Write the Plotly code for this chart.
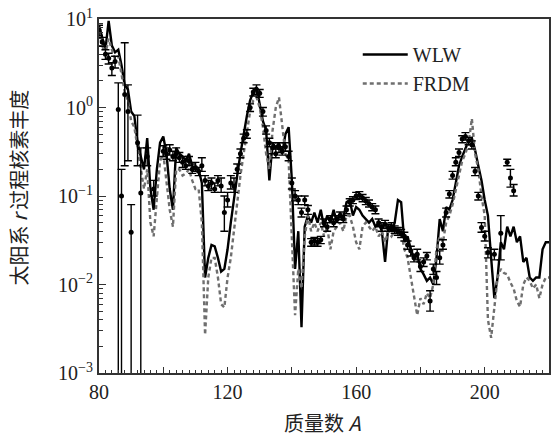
import plotly.graph_objects as go

# ---- model curves (mass number A, abundance) ----
A_model = list(range(80, 221))

wlw = [8.5, 6, 4.5, 9.5, 5, 4.2, 4.5, 3, 1.8, 1.6,
       0.9, 0.8, 0.4, 0.28, 0.2, 0.45, 0.12, 0.07, 0.2, 0.4,
       0.47, 0.3, 0.12, 0.07, 0.35, 0.3, 0.28, 0.25, 0.3, 0.22,
       0.2, 0.2, 0.14, 0.012, 0.02, 0.028, 0.027, 0.02, 0.014, 0.015,
       0.025, 0.05, 0.1, 0.17, 0.3, 0.5, 0.8, 1.2, 1.5, 1.7,
       1.1, 0.7, 0.55, 0.15, 0.4, 0.35, 0.4, 0.3, 0.5, 0.6,
       0.15, 0.015, 0.04, 0.0033, 0.045, 0.06, 0.05, 0.065, 0.05, 0.07,
       0.045, 0.06, 0.05, 0.07, 0.05, 0.065, 0.055, 0.085, 0.09, 0.06,
       0.075, 0.07, 0.06, 0.055, 0.05, 0.055, 0.045, 0.05, 0.04, 0.018,
       0.045, 0.04, 0.05, 0.09, 0.085, 0.03, 0.035, 0.025, 0.02, 0.022,
       0.015, 0.013, 0.011, 0.012, 0.01, 0.02, 0.055, 0.04, 0.075, 0.07,
       0.09, 0.14, 0.22, 0.28, 0.35, 0.42, 0.45, 0.33, 0.22, 0.15,
       0.09, 0.06, 0.02, 0.007, 0.012, 0.03, 0.025, 0.045, 0.035, 0.045,
       0.03, 0.035, 0.018, 0.02, 0.012, 0.011, 0.012, 0.012, 0.025, 0.03,
       0.03]

frdm = [7, 5, 4, 6, 4.5, 3.5, 3.8, 2.5, 1.5, 1.2,
        0.7, 0.6, 0.35, 0.22, 0.12, 0.2, 0.05, 0.035, 0.1, 0.25,
        0.3, 0.15, 0.07, 0.045, 0.2, 0.2, 0.17, 0.18, 0.2, 0.15,
        0.12, 0.12, 0.05, 0.0027, 0.012, 0.02, 0.02, 0.012, 0.006, 0.0055,
        0.012, 0.02, 0.04, 0.09, 0.17, 0.3, 0.55, 0.9, 1.2, 1.3,
        1.0, 0.6, 0.3, 0.2, 0.55, 1.0, 1.3, 0.6, 0.3, 0.25,
        0.04, 0.0045, 0.015, 0.009, 0.035, 0.06, 0.04, 0.05, 0.04, 0.05,
        0.035, 0.045, 0.025, 0.04, 0.045, 0.05, 0.04, 0.06, 0.06, 0.045,
        0.03, 0.025, 0.045, 0.05, 0.045, 0.04, 0.045, 0.035, 0.04, 0.03,
        0.04, 0.035, 0.04, 0.045, 0.04, 0.025, 0.02, 0.012, 0.008, 0.0045,
        0.007, 0.006, 0.008, 0.007, 0.01, 0.025, 0.035, 0.03, 0.05, 0.06,
        0.08, 0.12, 0.18, 0.25, 0.3, 0.4, 0.75, 0.3, 0.2, 0.1,
        0.06, 0.004, 0.0025, 0.006, 0.012, 0.015, 0.0135, 0.013, 0.0105, 0.009,
        0.0065, 0.0056, 0.01, 0.012, 0.011, 0.009, 0.01, 0.007, 0.01, 0.012,
        0.012]

# ---- solar r-process abundances with error bars ----
solar_A = [80, 81, 82, 83, 84, 85, 86, 87, 88, 89, 90, 92, 93, 95, 97,
           100, 101, 102, 103, 104, 105, 106, 107, 108, 109, 110, 111, 112,
           113, 114, 115, 116, 117, 118, 119, 120, 121, 122, 123, 124, 125,
           126, 127, 128, 129, 130, 131, 132, 133, 134, 135, 136, 137, 138,
           139, 140, 141, 142, 143, 144, 145, 146, 147, 148, 149, 150, 151,
           152, 153, 154, 155, 156, 157, 158, 159, 160, 161, 162, 163, 164,
           165, 166, 167, 168, 169, 170, 171, 172, 173, 174, 175, 176, 177,
           178, 179, 180, 181, 182, 183, 184, 185, 186, 187, 188, 189, 190,
           191, 192, 193, 194, 195, 196, 197, 198, 199, 200, 201, 203, 205,
           207, 208, 209]
solar_val = [7.5, 5.5, 4.0, 3.6, 2.8, 3.3, 0.95, 0.1, 1.4, 0.9, 0.039, 0.4, 0.108, 0.28, 0.12,
             0.32, 0.3, 0.33, 0.28, 0.3, 0.27, 0.24, 0.22, 0.25, 0.2, 0.21, 0.19, 0.22,
             0.15, 0.13, 0.14, 0.12, 0.15, 0.13, 0.065, 0.09, 0.14, 0.13, 0.2, 0.3, 0.45,
             0.5, 1.0, 1.5, 1.6, 1.45, 0.9, 0.55, 0.4, 0.35, 0.3, 0.35, 0.32, 0.36,
             0.28, 0.14, 0.1, 0.09, 0.065, 0.09, 0.07, 0.03, 0.031, 0.03, 0.032, 0.05, 0.045,
             0.055, 0.05, 0.055, 0.06, 0.055, 0.07, 0.085, 0.09, 0.1, 0.102, 0.095, 0.088, 0.082,
             0.075, 0.07, 0.05, 0.045, 0.048, 0.044, 0.045, 0.042, 0.04, 0.038, 0.035, 0.028, 0.024,
             0.02, 0.022, 0.016, 0.018, 0.021, 0.0065, 0.015, 0.012, 0.02, 0.028, 0.065, 0.105, 0.17,
             0.24, 0.31, 0.44, 0.47, 0.42, 0.38, 0.19, 0.1, 0.044, 0.035, 0.023, 0.022, 0.038,
             0.24, 0.16, 0.115]
solar_lo = [6.5, 4.9, 3.5, 3.1, 2.3, 2.8, 1e-4, 1e-4, 0.22, 0.25, 1e-4, 0.22, 1e-4, 0.22, 0.1,
            0.28, 0.26, 0.29, 0.25, 0.27, 0.24, 0.21, 0.2, 0.22, 0.18, 0.19, 0.17, 0.19,
            0.13, 0.115, 0.12, 0.11, 0.13, 0.11, 0.04, 0.075, 0.12, 0.11, 0.18, 0.27, 0.4,
            0.45, 0.9, 1.35, 1.4, 1.3, 0.8, 0.5, 0.36, 0.3, 0.27, 0.31, 0.29, 0.32,
            0.25, 0.12, 0.088, 0.08, 0.058, 0.08, 0.062, 0.027, 0.028, 0.027, 0.029, 0.045, 0.04,
            0.05, 0.045, 0.05, 0.054, 0.05, 0.063, 0.077, 0.082, 0.091, 0.093, 0.086, 0.08, 0.075,
            0.068, 0.063, 0.045, 0.04, 0.043, 0.04, 0.04, 0.038, 0.036, 0.034, 0.031, 0.025, 0.021,
            0.018, 0.019, 0.014, 0.016, 0.019, 0.005, 0.013, 0.01, 0.017, 0.025, 0.058, 0.095, 0.155,
            0.22, 0.28, 0.4, 0.43, 0.38, 0.34, 0.17, 0.09, 0.039, 0.031, 0.02, 0.019, 0.019,
            0.22, 0.126, 0.1]
solar_hi = [8.5, 6.2, 4.5, 4.1, 3.2, 3.8, 1.9, 0.2, 5.4, 1.8, 0.08, 0.82, 0.35, 0.35, 0.15,
            0.37, 0.35, 0.38, 0.32, 0.35, 0.31, 0.28, 0.25, 0.28, 0.23, 0.24, 0.21, 0.27,
            0.17, 0.15, 0.16, 0.14, 0.17, 0.16, 0.1, 0.11, 0.17, 0.16, 0.23, 0.34, 0.5,
            0.56, 1.1, 1.65, 1.8, 1.6, 1.0, 0.62, 0.45, 0.4, 0.34, 0.4, 0.36, 0.4,
            0.32, 0.16, 0.115, 0.1, 0.073, 0.1, 0.078, 0.033, 0.034, 0.033, 0.035, 0.055, 0.05,
            0.06, 0.055, 0.06, 0.066, 0.06, 0.077, 0.093, 0.098, 0.11, 0.112, 0.104, 0.096, 0.09,
            0.082, 0.077, 0.055, 0.05, 0.053, 0.048, 0.05, 0.046, 0.044, 0.042, 0.039, 0.031, 0.027,
            0.022, 0.025, 0.018, 0.02, 0.023, 0.0085, 0.017, 0.014, 0.024, 0.032, 0.073, 0.115, 0.19,
            0.27, 0.34, 0.48, 0.52, 0.46, 0.42, 0.21, 0.11, 0.05, 0.04, 0.026, 0.025, 0.06,
            0.26, 0.2, 0.135]

err_plus = [h - v for h, v in zip(solar_hi, solar_val)]
err_minus = [v - l for v, l in zip(solar_val, solar_lo)]

x_ticks = [80, 100, 120, 140, 160, 180, 200, 220]
x_ticktext = ["80", "", "120", "", "160", "", "200", ""]
y_ticks = [1e-3, 1e-2, 1e-1, 1, 10]
y_ticktext = ["10<sup>−3</sup>", "10<sup>−2</sup>", "10<sup>−1</sup>", "10<sup>0</sup>", "10<sup>1</sup>"]

serif = "Liberation Serif, DejaVu Serif, serif"
cjk = "Noto Sans CJK SC, Noto Sans, sans-serif"
axis_col = "#333333"

fig = go.Figure()
fig.add_trace(go.Scatter(x=A_model, y=wlw, mode="lines", name="WLW",
                         line=dict(color="black", width=2.4)))
fig.add_trace(go.Scatter(x=A_model, y=frdm, mode="lines", name="FRDM",
                         line=dict(color="#6f6f6f", width=2.4, dash="4px,3px")))
fig.add_trace(go.Scatter(x=solar_A, y=solar_val, mode="markers", showlegend=False,
                         marker=dict(color="black", size=5),
                         error_y=dict(type="data", symmetric=False, array=err_plus,
                                      arrayminus=err_minus, color="black",
                                      thickness=1.4, width=4)))

fig.update_layout(
    width=552, height=439,
    margin=dict(l=99, r=1, t=19, b=66),
    paper_bgcolor="white", plot_bgcolor="white",
    showlegend=True,
    legend=dict(x=0.575, y=0.955, xanchor="left", yanchor="top",
                bgcolor="rgba(0,0,0,0)", font=dict(family=serif, size=20, color="#222"),
                itemwidth=45, tracegroupgap=0),
    xaxis=dict(range=[80, 220], tickvals=x_ticks, ticktext=x_ticktext,
               ticks="inside", ticklen=6, tickwidth=1.2, tickcolor=axis_col,
               showline=True, linecolor=axis_col, linewidth=2, mirror=True,
               showgrid=False, zeroline=False,
               tickfont=dict(family=serif, size=20, color="#222"),
               minor=dict(ticks="inside", ticklen=3, dtick=2, tickcolor=axis_col,
                          tickwidth=1, showgrid=False)),
    yaxis=dict(type="log", range=[-3, 1], tickvals=y_ticks, ticktext=y_ticktext,
               ticks="inside", ticklen=7, tickwidth=1.2, tickcolor=axis_col,
               showline=True, linecolor=axis_col, linewidth=2, mirror=True,
               showgrid=False, zeroline=False,
               tickfont=dict(family=serif, size=20, color="#222"),
               minor=dict(ticks="inside", ticklen=3.5, tickcolor=axis_col, tickwidth=1,
                          tickvals=[m * 10.0 ** e for e in range(-3, 1) for m in range(2, 10)],
                          showgrid=False)),
    annotations=[
        dict(text="质量数 <i>A</i>", xref="paper", yref="paper", x=0.496, y=-0.141,
             xanchor="center", yanchor="middle", showarrow=False,
             font=dict(family=cjk, size=20, color="#222")),
        dict(text="太阳系\u2009<i>r</i>\u2009过程核素丰度", xref="paper", yref="paper",
             x=-0.179, y=0.525,
             xanchor="center", yanchor="middle", showarrow=False, textangle=-90,
             font=dict(family=cjk, size=20, color="#222")),
    ],
)

fig.write_html("out.html", config={"displayModeBar": False},
               post_script="document.body.style.margin='0';document.body.style.padding='0';")
